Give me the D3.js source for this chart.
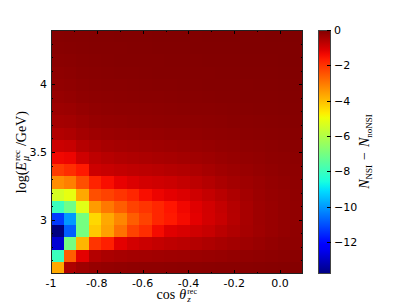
<!DOCTYPE html>
<html>
<head>
<meta charset="utf-8">
<script src="https://cdn.jsdelivr.net/npm/d3@7"></script>
<style>
  body { margin: 0; background: #fff; }
  svg { display: block; }
</style>
</head>
<body>
<div id="main"></div>
<script>
// bin edges
var cosEdges = d3.range(21).map(i => -1 + i * 0.055);
var logEEdges = d3.range(21).map(i => 2.6 + i * 0.09);

// N_NSI - N_noNSI, rows from lowest energy bin upwards, columns from cos = -1
var row00 = [-3.7, -0.55, -0.38, -0.28, -0.24, -0.22, -0.2, -0.19, -0.18, -0.17, -0.16, -0.15, -0.14, -0.13, -0.12, -0.11, -0.1, -0.09, -0.08, -0.07];
var row01 = [-8.0, -2.6, -1.2, -0.62, -0.52, -0.47, -0.44, -0.42, -0.4, -0.38, -0.36, -0.33, -0.3, -0.28, -0.25, -0.22, -0.2, -0.17, -0.15, -0.13];
var row02 = [-12.8, -7.0, -3.9, -2.0, -1.7, -1.2, -1.0, -0.9, -0.82, -0.75, -0.7, -0.62, -0.55, -0.48, -0.42, -0.36, -0.3, -0.25, -0.2, -0.18];
var row03 = [-13.8, -10.8, -7.0, -4.2, -3.6, -2.9, -2.2, -1.9, -1.4, -1.15, -1.05, -0.95, -0.85, -0.7, -0.58, -0.46, -0.38, -0.3, -0.25, -0.2];
var row04 = [-11.3, -10.0, -7.0, -4.4, -3.7, -3.2, -2.6, -2.2, -1.8, -1.6, -1.4, -1.2, -1.0, -0.85, -0.65, -0.48, -0.36, -0.3, -0.25, -0.21];
var row05 = [-8.0, -7.1, -5.2, -3.5, -3.0, -2.6, -2.2, -2.0, -1.8, -1.55, -1.35, -1.15, -0.98, -0.82, -0.64, -0.48, -0.36, -0.3, -0.25, -0.21];
var row06 = [-5.4, -5.1, -3.7, -2.4, -2.2, -2.0, -1.8, -1.45, -1.3, -1.2, -1.1, -0.95, -0.82, -0.68, -0.55, -0.43, -0.34, -0.28, -0.24, -0.2];
var row07 = [-3.3, -3.1, -2.4, -1.75, -1.45, -1.25, -1.1, -1.0, -0.95, -0.9, -0.82, -0.72, -0.62, -0.52, -0.44, -0.37, -0.31, -0.26, -0.22, -0.19];
var row08 = [-2.1, -1.9, -1.6, -0.92, -0.86, -0.8, -0.76, -0.72, -0.68, -0.64, -0.6, -0.54, -0.47, -0.4, -0.35, -0.3, -0.26, -0.22, -0.19, -0.17];
var row09 = [-1.35, -1.3, -0.95, -0.75, -0.66, -0.6, -0.56, -0.53, -0.5, -0.47, -0.44, -0.4, -0.36, -0.32, -0.28, -0.25, -0.22, -0.19, -0.17, -0.15];
var row10 = [-0.9, -0.85, -0.65, -0.55, -0.48, -0.45, -0.42, -0.4, -0.38, -0.35, -0.33, -0.3, -0.28, -0.25, -0.23, -0.2, -0.18, -0.16, -0.14, -0.12];
var row11 = [-0.6, -0.55, -0.45, -0.38, -0.34, -0.32, -0.3, -0.28, -0.27, -0.25, -0.24, -0.22, -0.2, -0.19, -0.17, -0.15, -0.14, -0.12, -0.11, -0.1];
var row12 = [-0.45, -0.42, -0.35, -0.28, -0.26, -0.24, -0.22, -0.21, -0.2, -0.19, -0.18, -0.17, -0.16, -0.15, -0.13, -0.12, -0.11, -0.1, -0.09, -0.08];
var row13 = [-0.35, -0.33, -0.27, -0.22, -0.2, -0.19, -0.18, -0.17, -0.16, -0.15, -0.14, -0.13, -0.12, -0.11, -0.1, -0.09, -0.08, -0.08, -0.07, -0.06];
var row14 = [-0.28, -0.25, -0.2, -0.17, -0.16, -0.15, -0.14, -0.13, -0.12, -0.11, -0.1, -0.1, -0.09, -0.08, -0.08, -0.07, -0.06, -0.06, -0.05, -0.05];
var row15 = [-0.22, -0.2, -0.16, -0.14, -0.13, -0.12, -0.11, -0.1, -0.09, -0.09, -0.08, -0.08, -0.07, -0.07, -0.06, -0.06, -0.05, -0.05, -0.04, -0.04];
var row16 = [-0.18, -0.16, -0.13, -0.11, -0.1, -0.09, -0.09, -0.08, -0.07, -0.07, -0.06, -0.06, -0.06, -0.05, -0.05, -0.04, -0.04, -0.04, -0.03, -0.03];
var row17 = [-0.14, -0.12, -0.1, -0.09, -0.08, -0.07, -0.07, -0.06, -0.06, -0.05, -0.05, -0.05, -0.04, -0.04, -0.04, -0.03, -0.03, -0.03, -0.02, -0.02];
var row18 = [-0.1, -0.09, -0.08, -0.07, -0.06, -0.06, -0.05, -0.05, -0.04, -0.04, -0.04, -0.03, -0.03, -0.03, -0.03, -0.02, -0.02, -0.02, -0.02, -0.02];
var row19 = [-0.08, -0.07, -0.06, -0.05, -0.05, -0.04, -0.04, -0.04, -0.03, -0.03, -0.03, -0.03, -0.02, -0.02, -0.02, -0.02, -0.02, -0.01, -0.01, -0.01];
var rows = [row00, row01, row02, row03, row04, row05, row06, row07, row08, row09,
            row10, row11, row12, row13, row14, row15, row16, row17, row18, row19];

var xTicks = [-1, -0.8, -0.6, -0.4, -0.2, 0.0];
var xTickLabels = ["-1", "-0.8", "-0.6", "-0.4", "-0.2", "0.0"];
var xMinorTicks = [-0.9, -0.7, -0.5, -0.3, -0.1];
var yTicks = [3, 3.5, 4];
var yTickLabels = ["3", "3.5", "4"];
var yMinorTicks = [2.7, 2.8, 2.9, 3.1, 3.2, 3.3, 3.4, 3.6, 3.7, 3.8, 3.9, 4.1, 4.2, 4.3];
var cbTicks = [0, -2, -4, -6, -8, -10, -12];
var vmin = -13.8, vmax = 0;

// matplotlib "jet"
var jetR = [[0, 0], [0.35, 0], [0.66, 1], [0.89, 1], [1, 0.5]];
var jetG = [[0, 0], [0.125, 0], [0.375, 1], [0.64, 1], [0.91, 0], [1, 0]];
var jetB = [[0, 0.5], [0.11, 1], [0.34, 1], [0.65, 0], [1, 0]];
function chan(seg) {
  return d3.scaleLinear().domain(seg.map(d => d[0])).range(seg.map(d => d[1])).clamp(true);
}
var cr = chan(jetR), cg = chan(jetG), cb = chan(jetB);
function jet(t) {
  return d3.rgb(cr(t) * 255, cg(t) * 255, cb(t) * 255).formatHex();
}
var norm = d3.scaleLinear().domain([vmin, vmax]).range([0, 1]).clamp(true);
var color = v => jet(norm(v));

var W = 407, H = 305;
var mLeft = 51, mTop = 30, pw = 252, ph = 244;

var svg = d3.select('#main').append('svg')
  .attr('width', W).attr('height', H)
  .attr('viewBox', [0, 0, W, H]);

var x = d3.scaleLinear().domain([-1, 0.1]).range([mLeft, mLeft + pw]);
var y = d3.scaleLinear().domain([2.6, 4.4]).range([mTop + ph, mTop]);

var cells = [];
rows.forEach((r, i) => r.forEach((v, j) => cells.push({i: i, j: j, v: v})));

var px = v => Math.round(x(v)), py = v => Math.round(y(v));
svg.append('g').attr('shape-rendering', 'crispEdges')
  .selectAll('rect').data(cells).join('rect')
  .attr('x', d => px(cosEdges[d.j]))
  .attr('y', d => py(logEEdges[d.i + 1]))
  .attr('width', d => px(cosEdges[d.j + 1]) - px(cosEdges[d.j]))
  .attr('height', d => py(logEEdges[d.i]) - py(logEEdges[d.i + 1]))
  .attr('fill', d => color(d.v));

// ticks point inwards on all four sides
var tickFont = '"DejaVu Sans", sans-serif';
function ticksInside(scale, values, len, orient) {
  var g = svg.append('g').attr('stroke', '#000').attr('stroke-width', 1)
    .attr('shape-rendering', 'crispEdges');
  values.forEach(v => {
    var p = Math.round(scale(v)) + 0.5;
    if (orient === 'x') {
      g.append('line').attr('x1', p).attr('x2', p).attr('y1', mTop + ph).attr('y2', mTop + ph - len);
      g.append('line').attr('x1', p).attr('x2', p).attr('y1', mTop).attr('y2', mTop + len);
    } else {
      g.append('line').attr('y1', p).attr('y2', p).attr('x1', mLeft).attr('x2', mLeft + len);
      g.append('line').attr('y1', p).attr('y2', p).attr('x1', mLeft + pw).attr('x2', mLeft + pw - len);
    }
  });
}
ticksInside(x, xTicks, 4, 'x');
ticksInside(x, xMinorTicks, 2, 'x');
ticksInside(y, yTicks, 4, 'y');
ticksInside(y, yMinorTicks, 2, 'y');

svg.append('rect').attr('x', mLeft + 0.5).attr('y', mTop + 0.5)
  .attr('width', pw - 1).attr('height', ph - 1)
  .attr('fill', 'none').attr('stroke', '#222').attr('stroke-width', 1);

svg.append('g').selectAll('text').data(xTicks).join('text')
  .attr('x', d => x(d)).attr('y', mTop + ph + 13)
  .attr('text-anchor', 'middle')
  .style('font-family', tickFont).style('font-size', '11px')
  .text((d, i) => xTickLabels[i]);

svg.append('g').selectAll('text').data(yTicks).join('text')
  .attr('x', mLeft - 4).attr('y', d => y(d) + 4)
  .attr('text-anchor', 'end')
  .style('font-family', tickFont).style('font-size', '11px')
  .text((d, i) => yTickLabels[i]);

// colorbar
var cbx = 318, cbw = 13;
var cy = d3.scaleLinear().domain([vmin, vmax]).range([mTop + ph, mTop]);
var grad = svg.append('defs').append('linearGradient').attr('id', 'jetgrad')
  .attr('x1', 0).attr('y1', 1).attr('x2', 0).attr('y2', 0);
d3.range(0, 1.0001, 0.02).forEach(t => {
  grad.append('stop').attr('offset', t).attr('stop-color', jet(t));
});
svg.append('rect').attr('x', cbx).attr('y', mTop).attr('width', cbw).attr('height', ph)
  .attr('fill', 'url(#jetgrad)');
svg.append('rect').attr('x', cbx + 0.5).attr('y', mTop + 0.5).attr('width', cbw - 1).attr('height', ph - 1)
  .attr('fill', 'none').attr('stroke', '#444').attr('stroke-width', 1);
var cbt = svg.append('g').attr('stroke', '#000').attr('shape-rendering', 'crispEdges');
cbTicks.forEach(v => {
  var p = Math.round(cy(v)) + 0.5;
  cbt.append('line').attr('x1', cbx + cbw - 4).attr('x2', cbx + cbw).attr('y1', p).attr('y2', p);
});
svg.append('g').selectAll('text').data(cbTicks).join('text')
  .attr('x', cbx + cbw + 3).attr('y', d => cy(d) + 4)
  .style('font-family', tickFont).style('font-size', '11px')
  .text(d => d === 0 ? '0' : '\u2212' + Math.abs(d));

// math-style labels built from tspans
var serif = '"Liberation Serif", "DejaVu Serif", serif';
function mathLabel(g, parts, size) {
  var t = g.append('text').style('font-family', serif).style('font-size', size + 'px');
  var cursor = 0;
  parts.forEach(p => {
    var st = p.stack;
    var s = t.append('tspan').text(p.t)
      .style('font-style', p.it ? 'italic' : 'normal')
      .style('font-size', (p.s || size) + 'px')
      .attr('y', p.dy || 0);
    p.x = st ? st.x : cursor;
    s.attr('x', p.x);
    p.w = s.node().getComputedTextLength();
    var end = p.x + p.w;
    if (st) end = Math.max(end, st.x + st.w);
    cursor = end + (p.gap || 0);
  });
  var bb = t.node().getBBox();
  t.attr('transform', 'translate(' + (-bb.x - bb.width / 2) + ',0)');
  return t;
}

var xl = svg.append('g').attr('transform', 'translate(' + (mLeft + pw / 2) + ',' + 299 + ')');
var xrec = {t: 'rec', s: 8, dy: -5};
mathLabel(xl, [
  {t: 'cos', gap: 4},
  {t: '\u03b8', it: true, gap: 1},
  xrec,
  {t: 'z', it: true, s: 9, dy: 3, stack: xrec}
], 14);

var yl = svg.append('g').attr('transform', 'translate(' + 26 + ',' + (mTop + ph / 2) + ') rotate(-90)');
var yrec = {t: 'rec', s: 9, dy: -6};
mathLabel(yl, [
  {t: 'log(', gap: 0},
  {t: 'E', it: true, gap: 1},
  yrec,
  {t: '\u03bc', it: true, s: 10, dy: 3, gap: 4, stack: yrec},
  {t: '/GeV)'}
], 14);

var cl = svg.append('g').attr('transform', 'translate(' + 369 + ',' + (mTop + ph / 2) + ') rotate(-90)');
mathLabel(cl, [
  {t: 'N', it: true, gap: 0},
  {t: 'NSI', s: 9, dy: 3, gap: 5},
  {t: '\u2212', gap: 5},
  {t: 'N', it: true, gap: 0},
  {t: 'noNSI', s: 9, dy: 3}
], 14);
</script>
</body>
</html>
